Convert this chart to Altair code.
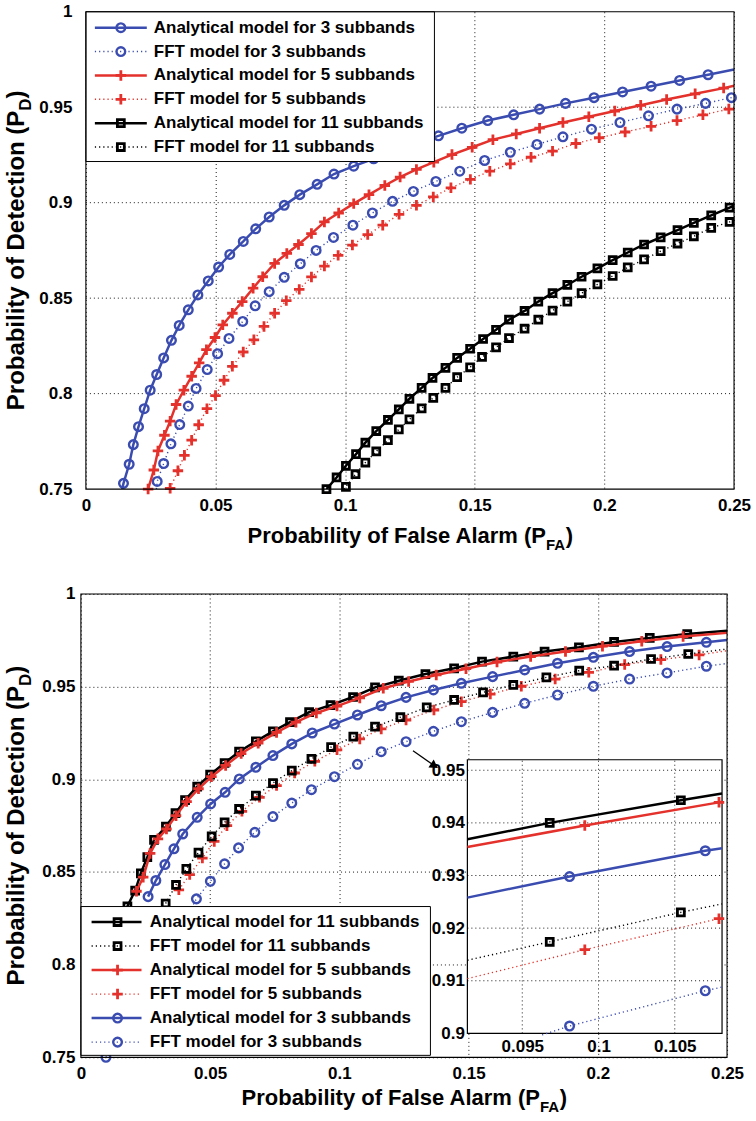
import altair as alt
import pandas as pd

FONT = "Liberation Sans"
BLUE = "#3B4CB0"
RED = "#E4312B"
BLACK = "#000000"
PLUS = "M-1,0L1,0M0,-1L0,1"

# ---------------- top panel: values ----------------
t_an3_x = [0.0145, 0.0167, 0.0183, 0.0203, 0.0225, 0.0248, 0.0273, 0.0300, 0.0330, 0.0360, 0.0395, 0.0432, 0.0472, 0.0512, 0.0555, 0.0607, 0.0655, 0.0707, 0.0765, 0.0825, 0.0892, 0.0957, 0.1033, 0.1110, 0.1190, 0.1270, 0.1360, 0.1450, 0.1550, 0.1650, 0.1750, 0.1850, 0.1960, 0.2070, 0.2180, 0.2290, 0.2400]
t_an3_y = [0.753, 0.763, 0.7733, 0.7827, 0.7921, 0.8018, 0.810, 0.8187, 0.8279, 0.8357, 0.8439, 0.8517, 0.859, 0.8663, 0.8729, 0.8797, 0.8863, 0.8925, 0.8986, 0.9042, 0.9096, 0.915, 0.9191, 0.923, 0.927, 0.931, 0.935, 0.939, 0.943, 0.946, 0.949, 0.952, 0.955, 0.958, 0.961, 0.964, 0.967]
t_an3_ex = [0.0140, 0.25]
t_an3_ey = [0.75, 0.9697]

t_ff3_x = [0.0275, 0.0300, 0.0328, 0.0362, 0.0395, 0.0425, 0.0468, 0.0508, 0.0552, 0.0605, 0.0653, 0.0707, 0.0765, 0.0827, 0.0888, 0.0955, 0.1030, 0.1105, 0.1183, 0.1263, 0.1350, 0.1442, 0.1538, 0.1637, 0.1740, 0.1840, 0.1950, 0.2060, 0.2170, 0.2280, 0.2390, 0.2490]
t_ff3_y = [0.754, 0.7634, 0.7737, 0.7838, 0.7935, 0.8027, 0.8126, 0.8209, 0.8289, 0.8378, 0.846, 0.8534, 0.8609, 0.868, 0.875, 0.8818, 0.8882, 0.8946, 0.9007, 0.9059, 0.9111, 0.9165, 0.9221, 0.9264, 0.9305, 0.9345, 0.9385, 0.942, 0.9455, 0.949, 0.952, 0.955]
t_ff3_ex = [0.0272, 0.25]
t_ff3_ey = [0.75, 0.9553]

t_an5_x = [0.024, 0.0262, 0.0278, 0.0303, 0.0325, 0.0348, 0.0378, 0.0408, 0.0437, 0.0465, 0.0498, 0.0528, 0.0565, 0.0603, 0.0645, 0.0682, 0.0728, 0.0775, 0.082, 0.087, 0.092, 0.0975, 0.1033, 0.1092, 0.1153, 0.1212, 0.1275, 0.1342, 0.1412, 0.149, 0.157, 0.166, 0.175, 0.184, 0.194, 0.204, 0.214, 0.224, 0.235, 0.246]
t_an5_y = [0.75, 0.760, 0.770, 0.7782, 0.7856, 0.7943, 0.8018, 0.8091, 0.8161, 0.823, 0.8294, 0.836, 0.8421, 0.8482, 0.8552, 0.8612, 0.8682, 0.8734, 0.8781, 0.8838, 0.8899, 0.8946, 0.8995, 0.9042, 0.909, 0.9134, 0.9174, 0.9212, 0.9252, 0.929, 0.933, 0.936, 0.939, 0.942, 0.945, 0.948, 0.951, 0.954, 0.957, 0.960]
t_an5_ex = [0.25]
t_an5_ey = [0.9612]

t_ff5_x = [0.0325, 0.0355, 0.038, 0.0408, 0.0435, 0.0467, 0.05, 0.0533, 0.0565, 0.0607, 0.0648, 0.0687, 0.0728, 0.0773, 0.0823, 0.087, 0.092, 0.0973, 0.1028, 0.1087, 0.1145, 0.1208, 0.1275, 0.134, 0.1408, 0.1483, 0.1558, 0.1637, 0.1717, 0.180, 0.189, 0.198, 0.208, 0.218, 0.228, 0.238, 0.248]
t_ff5_y = [0.7504, 0.7596, 0.7677, 0.7756, 0.7837, 0.7921, 0.799, 0.807, 0.8143, 0.8218, 0.8282, 0.8352, 0.8421, 0.8487, 0.8546, 0.8611, 0.8668, 0.8724, 0.8778, 0.8833, 0.8882, 0.8939, 0.8986, 0.903, 0.9078, 0.9122, 0.9165, 0.9203, 0.9238, 0.927, 0.931, 0.934, 0.937, 0.940, 0.943, 0.946, 0.949]
t_ff5_ex = [0.25]
t_ff5_ey = [0.9496]

t_an11_x = [0.0928, 0.0967, 0.1003, 0.1042, 0.1078, 0.112, 0.1165, 0.1207, 0.1248, 0.1295, 0.1337, 0.1387, 0.1432, 0.1482, 0.1532, 0.1582, 0.1632, 0.1692, 0.1745, 0.18, 0.1857, 0.1912, 0.1973, 0.2032, 0.209, 0.2153, 0.2217, 0.2282, 0.2345, 0.2412, 0.2483]
t_an11_y = [0.75, 0.7561, 0.7622, 0.7683, 0.7743, 0.7804, 0.7862, 0.7917, 0.7973, 0.803, 0.8082, 0.8135, 0.8187, 0.8235, 0.8286, 0.8334, 0.8387, 0.8433, 0.8482, 0.8526, 0.8569, 0.8612, 0.8656, 0.8699, 0.8739, 0.8781, 0.8818, 0.8856, 0.8894, 0.8934, 0.8974]
t_an11_ex = [0.25]
t_an11_ey = [0.8984]

t_ff11_x = [0.1003, 0.104, 0.1078, 0.112, 0.1165, 0.1207, 0.1248, 0.1295, 0.134, 0.1387, 0.1432, 0.1482, 0.1528, 0.1582, 0.1632, 0.1692, 0.1745, 0.18, 0.1857, 0.1912, 0.1973, 0.2032, 0.209, 0.2153, 0.2217, 0.2282, 0.2345, 0.2412, 0.2483]
t_ff11_y = [0.7512, 0.7578, 0.7639, 0.7697, 0.7756, 0.7813, 0.7865, 0.7923, 0.7978, 0.803, 0.8086, 0.8138, 0.8192, 0.8242, 0.8291, 0.834, 0.8387, 0.8435, 0.8482, 0.8526, 0.8572, 0.8616, 0.8661, 0.8703, 0.8746, 0.8786, 0.8824, 0.8868, 0.8899]
t_ff11_ex = [0.0995, 0.25]
t_ff11_ey = [0.75, 0.8907]

# ---------------- bottom panel: values ----------------
b_an11_x = [0.014, 0.018, 0.021, 0.0232, 0.0257, 0.0283, 0.0329, 0.0366, 0.0403, 0.045, 0.05, 0.0556, 0.0612, 0.0677, 0.0743, 0.0809, 0.0883, 0.0966, 0.1053, 0.1138, 0.123, 0.1333, 0.1444, 0.1552, 0.1673, 0.1794, 0.1927, 0.2063, 0.2201, 0.2346]
b_an11_y = [0.815, 0.8315, 0.840, 0.8493, 0.858, 0.8673, 0.8745, 0.8817, 0.8888, 0.896, 0.9025, 0.9088, 0.9149, 0.9205, 0.9259, 0.9308, 0.9362, 0.940, 0.9444, 0.9496, 0.9532, 0.9568, 0.9599, 0.9635, 0.9662, 0.9689, 0.9712, 0.9741, 0.9763, 0.9784]
b_an11_ex = [0.25]
b_an11_ey = [0.9801]

b_an5_x = [0.0215, 0.0241, 0.0268, 0.0298, 0.0331, 0.0368, 0.0409, 0.0455, 0.0505, 0.056, 0.062, 0.0686, 0.0757, 0.0832, 0.0911, 0.0991, 0.1079, 0.117, 0.1268, 0.1375, 0.149, 0.161, 0.174, 0.1875, 0.2018, 0.217, 0.233]
b_an5_y = [0.8396, 0.8472, 0.860, 0.8679, 0.8732, 0.8804, 0.888, 0.8949, 0.9014, 0.9075, 0.9139, 0.9195, 0.9253, 0.9308, 0.9358, 0.9395, 0.9439, 0.9491, 0.9528, 0.9563, 0.9597, 0.9633, 0.9662, 0.9689, 0.9718, 0.9745, 0.977]
b_an5_ex = [0.25]
b_an5_ey = [0.979]

b_an3_x = [0.026, 0.029, 0.0325, 0.036, 0.0394, 0.045, 0.0502, 0.0558, 0.0613, 0.0677, 0.0743, 0.0816, 0.0895, 0.0981, 0.107, 0.1162, 0.1258, 0.1364, 0.1472, 0.1593, 0.1717, 0.1844, 0.1983, 0.2123, 0.2268, 0.242]
b_an3_y = [0.8367, 0.8454, 0.854, 0.8625, 0.8705, 0.8795, 0.8867, 0.893, 0.9002, 0.9065, 0.9128, 0.9191, 0.925, 0.9298, 0.9347, 0.9397, 0.9442, 0.9482, 0.9518, 0.9554, 0.959, 0.9626, 0.9658, 0.9689, 0.9716, 0.9739]
b_an3_ex = [0.25]
b_an3_ey = [0.9752]

b_ff11_x = [0.0328, 0.0368, 0.0408, 0.0455, 0.0506, 0.0556, 0.0612, 0.0677, 0.0743, 0.0816, 0.0892, 0.0968, 0.1054, 0.1138, 0.1236, 0.1338, 0.1444, 0.1556, 0.1673, 0.1801, 0.1928, 0.2063, 0.2206, 0.235]
b_ff11_y = [0.833, 0.843, 0.8517, 0.8605, 0.8692, 0.8768, 0.884, 0.8912, 0.898, 0.9047, 0.911, 0.9174, 0.923, 0.9284, 0.9335, 0.9388, 0.9428, 0.9469, 0.9509, 0.955, 0.9586, 0.9613, 0.9649, 0.9676]
b_ff11_ex = [0.25]
b_ff11_ey = [0.9703]

b_ff5_x = [0.0379, 0.0421, 0.047, 0.0516, 0.0565, 0.0623, 0.0691, 0.0757, 0.0827, 0.0905, 0.0991, 0.1079, 0.1162, 0.1258, 0.1366, 0.1472, 0.1584, 0.1704, 0.1835, 0.1965, 0.2104, 0.2244, 0.2392]
b_ff5_y = [0.8404, 0.8486, 0.8575, 0.8665, 0.875, 0.8827, 0.8903, 0.8966, 0.9034, 0.9097, 0.9159, 0.9218, 0.9272, 0.932, 0.9374, 0.9419, 0.946, 0.9502, 0.9541, 0.9577, 0.9619, 0.9646, 0.9671]
b_ff5_ex = [0.25]
b_ff5_ey = [0.9694]

b_ff3_x = [0.0097, 0.0447, 0.0501, 0.0556, 0.061, 0.0673, 0.0743, 0.0816, 0.0892, 0.0981, 0.107, 0.1162, 0.1258, 0.1364, 0.1472, 0.1593, 0.1717, 0.1844, 0.1983, 0.2123, 0.2268, 0.242]
b_ff3_y = [0.75, 0.8355, 0.845, 0.8544, 0.863, 0.8714, 0.8799, 0.8872, 0.8944, 0.9014, 0.9081, 0.9149, 0.9203, 0.9259, 0.9311, 0.9361, 0.941, 0.9455, 0.9502, 0.9541, 0.9574, 0.961]
b_ff3_ex = [0.25]
b_ff3_ey = [0.9625]

# arrow pointing to the zoomed inset (data coordinates of bottom panel)
arrow_x = [0.1285, 0.1368]
arrow_y = [0.9154, 0.9073]

# ---------------- inset (zoom) values ----------------
in_an11_x = [0.0914, 0.0968, 0.1054, 0.1081]
in_an11_y = [0.9369, 0.9400, 0.9443, 0.9456]
in_an5_x = [0.0914, 0.0991, 0.1079, 0.1081]
in_an5_y = [0.9354, 0.9395, 0.9439, 0.9440]
in_an3_x = [0.0914, 0.0981, 0.1070, 0.1081]
in_an3_y = [0.9258, 0.9298, 0.9347, 0.9352]
in_ff11_x = [0.0914, 0.0968, 0.1054, 0.1081]
in_ff11_y = [0.9139, 0.9174, 0.9230, 0.9246]
in_ff5_x = [0.0914, 0.0991, 0.1079, 0.1081]
in_ff5_y = [0.9104, 0.9159, 0.9218, 0.9219]
in_ff3_x = [0.0963, 0.0981, 0.1070, 0.1081]
in_ff3_y = [0.8997, 0.9014, 0.9081, 0.9088]
in_marker_idx = [1, 2]

# ticks
main_x_ticks = [0, 0.05, 0.1, 0.15, 0.2, 0.25]
main_y_ticks = [0.75, 0.8, 0.85, 0.9, 0.95, 1.0]
inset_x_ticks = [0.095, 0.1, 0.105]
inset_y_ticks = [0.9, 0.91, 0.92, 0.93, 0.94, 0.95]
inset_x_dom = [0.0914, 0.1081]
inset_y_dom = [0.9, 0.952]

# legend labels
lab_an = "Analytical model for {} subbands"
lab_ff = "FFT model for {} subbands"

# ---------------- layout constants ----------------
# both panels share the same group origin; the top frame starts 5 px to the right
TOFF = 5
TW, TH = 649, 478
BW, BH = 647, 464
LBL = 17
TFX = 22   # x-title font size
TFY = 24   # y-title font size

LABEL = dict(labelFont=FONT, labelFontWeight="bold", labelFontSize=LBL, labelColor="black",
             labelFlush=False, labelOverlap=False, labelBound=False, title=None, domain=False, ticks=False)
GRID = dict(strokeDash=[1, 3], color="black", opacity=0.9, strokeWidth=1)
ONE = pd.DataFrame({"k": [0]})

STYLE = {
    "circle": dict(shape="circle", size=75, strokeWidth=2.4, filled=False),
    "plus": dict(shape=PLUS, size=110, strokeWidth=2.8, filled=False),
    "square": dict(shape="square", size=48, strokeWidth=2.8, filled=False),
}


def series(xs, ys, exs, eys, color, dotted, shape, sx, sy, ax, ay):
    pts = pd.DataFrame({"x": xs, "y": ys})
    ln = pd.concat([pts, pd.DataFrame({"x": exs, "y": eys})]).sort_values("x")
    X = alt.X("x:Q", scale=sx, axis=ax)
    Y = alt.Y("y:Q", scale=sy, axis=ay)
    if dotted:
        line = alt.Chart(ln).mark_line(clip=True, color=color, strokeWidth=1.4, strokeDash=[1.2, 3])
    else:
        line = alt.Chart(ln).mark_line(clip=True, color=color, strokeWidth=2.5)
    pt = alt.Chart(pts).mark_point(color=color, opacity=1, **STYLE[shape])
    return [line.encode(x=X, y=Y), pt.encode(x=X, y=Y)]


def frame(x0, x1, y0, y1):
    return alt.Chart(ONE).mark_rect(fillOpacity=0, stroke="black", strokeWidth=1.1).encode(
        x=alt.value(x0), x2=alt.value(x1), y=alt.value(y0), y2=alt.value(y1))


def legend(rows, box, ly0, dy, lx0, lx1, mx, tx):
    out = [alt.Chart(ONE).mark_rect(fill="white", stroke="black", strokeWidth=1).encode(
        x=alt.value(box[0]), x2=alt.value(box[2]), y=alt.value(box[1]), y2=alt.value(box[3]))]
    for i, (label, color, dotted, shape) in enumerate(rows):
        yy = ly0 + dy * i
        if dotted:
            r = alt.Chart(ONE).mark_rule(color=color, strokeWidth=1.4, strokeDash=[1.2, 3])
        else:
            r = alt.Chart(ONE).mark_rule(color=color, strokeWidth=2.5)
        out.append(r.encode(x=alt.value(lx0), x2=alt.value(lx1), y=alt.value(yy)))
        out.append(alt.Chart(ONE).mark_point(color=color, opacity=1, **STYLE[shape]).encode(
            x=alt.value(mx), y=alt.value(yy)))
        out.append(alt.Chart(ONE).mark_text(text=label, align="left", baseline="middle", font=FONT,
                                            fontWeight="bold", fontSize=17, color="black").encode(
            x=alt.value(tx), y=alt.value(yy)))
    return out


def titles(cx, cy, xbase, ybase):
    t = dict(font=FONT, fontWeight="bold", color="black")
    F = TFX
    fs = round(F * 0.7)
    wmain = 13.615 * F
    wsub = 1.333 * fs
    total = wmain + wsub + 0.333 * F
    A = cx - total / 2 + wmain
    out = [
        alt.Chart(ONE).mark_text(text="Probability of False Alarm (P", align="right", baseline="alphabetic", fontSize=F, **t).encode(x=alt.value(A), y=alt.value(xbase)),
        alt.Chart(ONE).mark_text(text="FA", align="left", baseline="alphabetic", fontSize=fs, **t).encode(x=alt.value(A), y=alt.value(xbase + 0.3 * F)),
        alt.Chart(ONE).mark_text(text=")", align="left", baseline="alphabetic", fontSize=F, **t).encode(x=alt.value(A + wsub), y=alt.value(xbase)),
    ]
    F = TFY
    fs = round(F * 0.7)
    wmain = 12.502 * F
    wsub = 0.722 * fs
    total = wmain + wsub + 0.333 * F
    B = cy + total / 2 - wmain
    out += [
        alt.Chart(ONE).mark_text(text="Probability of Detection (P", align="right", baseline="alphabetic", angle=270, fontSize=F, **t).encode(x=alt.value(ybase), y=alt.value(B)),
        alt.Chart(ONE).mark_text(text="D", align="left", baseline="alphabetic", angle=270, fontSize=fs, **t).encode(x=alt.value(ybase + 0.3 * F), y=alt.value(B)),
        alt.Chart(ONE).mark_text(text=")", align="left", baseline="alphabetic", angle=270, fontSize=F, **t).encode(x=alt.value(ybase), y=alt.value(B - wsub)),
    ]
    return out


MSY = alt.Scale(domain=[0.75, 1.0], nice=False, zero=False)

# ---------------- top panel ----------------
TSX = alt.Scale(domain=[0, 0.25], range=[TOFF, TOFF + TW], nice=False, zero=False)
tax = alt.Axis(values=main_x_ticks, format="~g", grid=True, gridDash=[1, 3], gridColor="#000",
               gridOpacity=0.9, gridWidth=1, labelPadding=8, orient="bottom", **LABEL)
tay = alt.Axis(values=main_y_ticks, format="~g", grid=False, labelPadding=TOFF + 4, orient="left", **LABEL)

top_layers = []
ygrid = pd.DataFrame({"y": main_y_ticks[1:-1]})
top_layers.append(alt.Chart(ygrid).mark_rule(**GRID).encode(
    y=alt.Y("y:Q", scale=MSY, axis=tay), x=alt.value(TOFF), x2=alt.value(TOFF + TW)))
for args in [
    (t_an3_x, t_an3_y, t_an3_ex, t_an3_ey, BLUE, False, "circle"),
    (t_ff3_x, t_ff3_y, t_ff3_ex, t_ff3_ey, BLUE, True, "circle"),
    (t_an5_x, t_an5_y, t_an5_ex, t_an5_ey, RED, False, "plus"),
    (t_ff5_x, t_ff5_y, t_ff5_ex, t_ff5_ey, RED, True, "plus"),
    (t_an11_x, t_an11_y, t_an11_ex, t_an11_ey, BLACK, False, "square"),
    (t_ff11_x, t_ff11_y, t_ff11_ex, t_ff11_ey, BLACK, True, "square"),
]:
    top_layers += series(*args, TSX, MSY, tax, tay)

top_rows = [
    (lab_an.format(3), BLUE, False, "circle"),
    (lab_ff.format(3), BLUE, True, "circle"),
    (lab_an.format(5), RED, False, "plus"),
    (lab_ff.format(5), RED, True, "plus"),
    (lab_an.format(11), BLACK, False, "square"),
    (lab_ff.format(11), BLACK, True, "square"),
]
top_layers += legend(top_rows, (TOFF, 0, TOFF + 349, 150), 16, 23.9, TOFF + 9, TOFF + 61, TOFF + 35, TOFF + 68)
top_layers.append(frame(TOFF, TOFF + TW, 0, TH))
top_layers += titles(TOFF + TW / 2, TH / 2, TH + 54, -57)
top = alt.layer(*top_layers).properties(width=TOFF + TW, height=TH)

# ---------------- bottom panel ----------------
BSX = alt.Scale(domain=[0, 0.25], nice=False, zero=False)
bax = alt.Axis(values=main_x_ticks, format="~g", grid=True, gridDash=[1, 3], gridColor="#000",
               gridOpacity=0.9, gridWidth=1, labelPadding=8, orient="bottom", **LABEL)
bay = alt.Axis(values=main_y_ticks, format="~g", grid=True, gridDash=[1, 3], gridColor="#000",
               gridOpacity=0.9, gridWidth=1, labelPadding=6, orient="left", **LABEL)
main_layers = []
for args in [
    (b_ff3_x, b_ff3_y, b_ff3_ex, b_ff3_ey, BLUE, True, "circle"),
    (b_ff5_x, b_ff5_y, b_ff5_ex, b_ff5_ey, RED, True, "plus"),
    (b_ff11_x, b_ff11_y, b_ff11_ex, b_ff11_ey, BLACK, True, "square"),
    (b_an3_x, b_an3_y, b_an3_ex, b_an3_ey, BLUE, False, "circle"),
    (b_an11_x, b_an11_y, b_an11_ex, b_an11_ey, BLACK, False, "square"),
    (b_an5_x, b_an5_y, b_an5_ex, b_an5_ey, RED, False, "plus"),
]:
    main_layers += series(*args, BSX, MSY, bax, bay)
arr = pd.DataFrame({"x": [arrow_x[0]], "y": [arrow_y[0]], "x2": [arrow_x[1]], "y2": [arrow_y[1]]})
main_layers.append(alt.Chart(arr).mark_rule(color="black", strokeWidth=1.3).encode(
    x=alt.X("x:Q", scale=BSX, axis=bax), y=alt.Y("y:Q", scale=MSY, axis=bay), x2="x2:Q", y2="y2:Q"))
head = pd.DataFrame({"x": [arrow_x[1]], "y": [arrow_y[1]]})
main_layers.append(alt.Chart(head).mark_point(shape="triangle-right", filled=True, color="black", size=90, angle=34, opacity=1).encode(
    x=alt.X("x:Q", scale=BSX, axis=bax), y=alt.Y("y:Q", scale=MSY, axis=bay)))

bot_rows = [
    (lab_an.format(11), BLACK, False, "square"),
    (lab_ff.format(11), BLACK, True, "square"),
    (lab_an.format(5), RED, False, "plus"),
    (lab_ff.format(5), RED, True, "plus"),
    (lab_an.format(3), BLUE, False, "circle"),
    (lab_ff.format(3), BLUE, True, "circle"),
]
main_layers += legend(bot_rows, (0, 313, 350, 462), 328.5, 24.05, 10.7, 60.7, 36.7, 69)
main_layers.append(frame(0, BW, 0, BH))
main_layers += titles(BW / 2, BH / 2, BH + 48, -57)
main_part = alt.layer(*main_layers)

# inset with its own scales, placed inside the bottom panel
ISX = alt.Scale(domain=inset_x_dom, range=[387, 642], nice=False, zero=False)
ISY = alt.Scale(domain=inset_y_dom, range=[440, 166], nice=False, zero=False)
iax = alt.Axis(values=inset_x_ticks, format="~g", grid=False, labelPadding=5, orient="bottom", offset=-24, zindex=3, **LABEL)
iay = alt.Axis(values=inset_y_ticks, format="~g", grid=False, labelPadding=3, orient="left", offset=-387, zindex=3, **LABEL)
IX = alt.X("x:Q", scale=ISX, axis=iax)
IY = alt.Y("y:Q", scale=ISY, axis=iay)

inset_layers = []
box = pd.DataFrame({"x": [inset_x_dom[0]], "x2": [inset_x_dom[1]], "y": [inset_y_dom[0]], "y2": [inset_y_dom[1]]})
inset_layers.append(alt.Chart(box).mark_rect(fill="white", stroke="black", strokeWidth=1.2).encode(
    x=IX, y=IY, x2="x2:Q", y2="y2:Q"))
gx = pd.DataFrame({"x": inset_x_ticks, "y": [inset_y_dom[0]] * 3, "y2": [inset_y_dom[1]] * 3})
inset_layers.append(alt.Chart(gx).mark_rule(**GRID).encode(x=IX, y=IY, y2="y2:Q"))
gy = pd.DataFrame({"y": inset_y_ticks[1:], "x": [inset_x_dom[0]] * 5, "x2": [inset_x_dom[1]] * 5})
inset_layers.append(alt.Chart(gy).mark_rule(**GRID).encode(x=IX, y=IY, x2="x2:Q"))


def inset_series(xs, ys, color, dotted, shape):
    ln = pd.DataFrame({"x": xs, "y": ys})
    pts = pd.DataFrame({"x": [xs[i] for i in in_marker_idx], "y": [ys[i] for i in in_marker_idx]})
    if dotted:
        line = alt.Chart(ln).mark_line(color=color, strokeWidth=1.4, strokeDash=[1.2, 3])
    else:
        line = alt.Chart(ln).mark_line(color=color, strokeWidth=2.5)
    pt = alt.Chart(pts).mark_point(color=color, opacity=1, **STYLE[shape])
    return [line.encode(x=IX, y=IY), pt.encode(x=IX, y=IY)]


for args in [
    (in_ff3_x, in_ff3_y, BLUE, True, "circle"),
    (in_ff5_x, in_ff5_y, RED, True, "plus"),
    (in_ff11_x, in_ff11_y, BLACK, True, "square"),
    (in_an3_x, in_an3_y, BLUE, False, "circle"),
    (in_an5_x, in_an5_y, RED, False, "plus"),
    (in_an11_x, in_an11_y, BLACK, False, "square"),
]:
    inset_layers += inset_series(*args)
inset_part = alt.layer(*inset_layers)

bottom = alt.layer(main_part, inset_part).resolve_scale(x="independent", y="independent").properties(width=BW, height=BH)

chart = alt.vconcat(top, bottom, spacing=32).properties(
    padding={"left": 5, "top": 2, "right": 5, "bottom": 5}, background="white"
).configure_view(strokeWidth=0)

chart.save("out.html", embed_options={"renderer": "svg", "actions": False})
